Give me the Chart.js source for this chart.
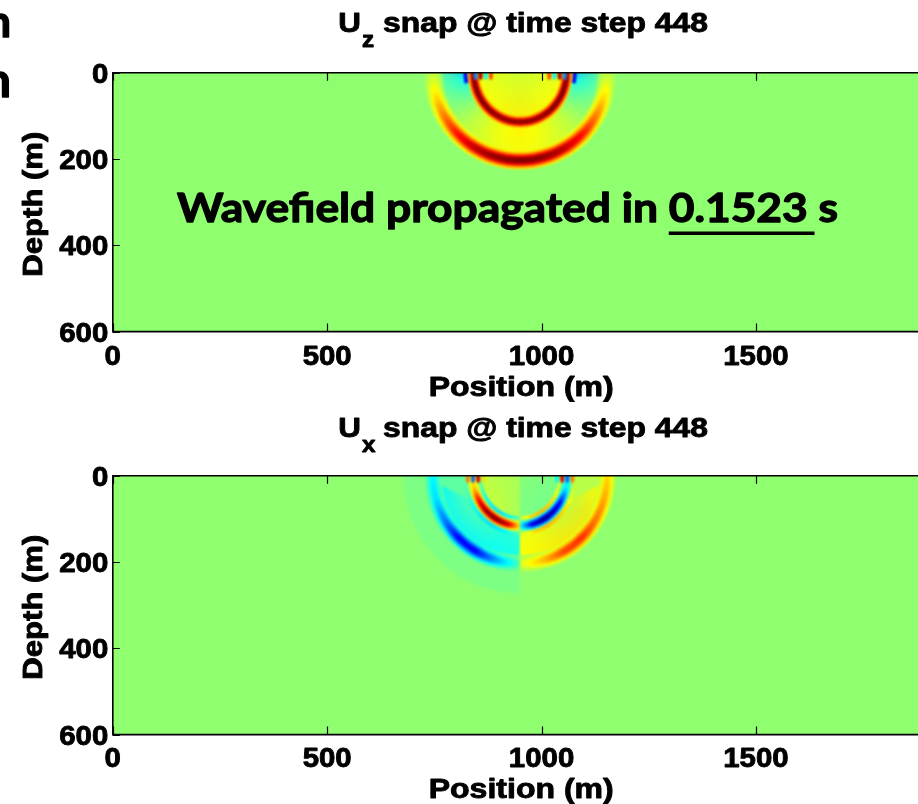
<!DOCTYPE html>
<html><head><meta charset="utf-8">
<script src="https://cdn.jsdelivr.net/npm/chart.js@4.4.0/dist/chart.umd.min.js"></script>
<style>
html,body{margin:0;padding:0;background:#fff;overflow:hidden;width:918px;height:804px}
.panel{position:absolute;left:0;width:918px;height:402px}
#p1{top:0}#p2{top:402px}
canvas{display:block}
</style></head><body>
<div class="panel" id="p1"><canvas id="c1" width="918" height="402"></canvas></div>
<div class="panel" id="p2"><canvas id="c2" width="918" height="402"></canvas></div>
<script>
// ---------- axis data ----------
const xTicks = [0, 500, 1000, 1500];
const depthTicks = [0, 200, 400, 600];
const positionMax = 1878;
const depthMax = 600;

// ---------- wavefield ----------
const sourceX = 950;          // m
const sourceDepth = 0;        // m
const pRadius = 203;          // m, P wavefront
const sRadius = 114;          // m, S wavefront (depth direction)
const sAspect = 0.95;         // horizontal / vertical radius of S front
const tailRadius = 272;       // m, faint tail sector (Ux, left)

// Uz panel (angle from downward vertical, negative = left)
const uzAngles      = [-90, -75, -60, -45, -30, -15, 0, 15, 30, 45, 60, 75, 90];
const uzPAmp        = [0.08, 0.28, 0.5, 0.72, 0.88, 0.97, 1.0, 0.97, 0.88, 0.72, 0.5, 0.28, 0.08];
const uzSAmp        = [0.95, 1.0, 1.0, 1.0, 0.98, 0.97, 0.97, 0.97, 0.98, 1.0, 1.0, 1.0, 0.95];
const uzInsideCenter= [0.15, 0.15, 0.16, 0.16, 0.17, 0.17, 0.17, 0.17, 0.17, 0.16, 0.16, 0.15, 0.15];
const uzInsideEdge  = [0.21, 0.21, 0.22, 0.23, 0.24, 0.25, 0.26, 0.25, 0.24, 0.23, 0.22, 0.21, 0.21];
const uzBetweenIn   = [-0.4, -0.2, -0.04, 0.09, 0.17, 0.22, 0.25, 0.22, 0.17, 0.09, -0.04, -0.2, -0.4];
const uzBetweenOut  = [-0.04, -0.03, 0.02, 0.09, 0.14, 0.18, 0.2, 0.18, 0.14, 0.09, 0.02, -0.03, -0.04];
const uzPatchPhi0   = [-92, 79];
const uzPatchPhi1   = [-79, 92];
const uzPatchR0     = [112, 112];
const uzPatchR1     = [132, 132];
const uzPatchValue  = [-0.8, -0.8];
const uzFringeX     = [846, 858, 870, 882, 1018, 1030, 1042, 1054];
const uzFringeValue = [-0.5, 0.9, -0.3, 0.6, 0.6, -0.3, 0.9, -0.5];

// Ux panel
const uxAngles      = [-90, -75, -60, -45, -30, -15, -0.5, 0.5, 15, 30, 45, 60, 75, 90];
const uxPAmp        = [-0.3, -0.35, -0.55, -0.8, -0.8, -0.45, -0.15, 0.15, 0.35, 0.6, 0.65, 0.5, 0.4, 0.3];
const uxSAmp        = [0.2, 0.35, 0.75, 0.95, 1.0, 0.85, 0.3, -0.3, -0.85, -1.05, -0.95, -0.75, -0.35, -0.2];
const uxInsideCenter= [0.06, 0.06, 0.06, 0.06, 0.06, 0.06, 0.04, -0.02, -0.03, -0.03, -0.03, -0.03, -0.03, -0.03];
const uxInsideEdge  = [0.1, 0.12, 0.12, 0.12, 0.1, 0.08, 0.05, -0.03, -0.05, -0.06, -0.06, -0.06, -0.05, -0.04];
const uxBetweenIn   = [-0.2, -0.12, -0.1, -0.12, -0.15, -0.2, -0.2, 0.18, 0.18, 0.14, 0.1, 0.08, 0.1, 0.18];
const uxBetweenOut  = [-0.28, -0.3, -0.3, -0.3, -0.3, -0.28, -0.25, 0.22, 0.25, 0.28, 0.28, 0.28, 0.25, 0.22];
const uxTailAngles  = [-90, -0.5];
const uxTailValue   = [-0.04, -0.04];
const uxWedgeLeftX  = [750, 756, 943, 836];
const uxWedgeLeftZ  = [0, 17, 114, 0];
const uxWedgeRightX = [1150, 1144, 957, 1064];
const uxWedgeRightZ = [0, 17, 114, 0];
const uxWedgeValue  = [-0.1, 0.08];
const uxFringeX     = [828, 840, 852, 864, 1036, 1048, 1060, 1072];
const uxFringeValue = [0.5, -0.6, 0.8, 0.3, -0.3, 0.8, -0.6, 0.5];

// ---------- helpers ----------
const D2R = Math.PI / 180;
function jet(a) {
  let t = 0.5156 + a * 0.4844;
  t = Math.max(0, Math.min(1, t));
  const f = v => Math.round(255 * Math.max(0, Math.min(1, v)));
  return 'rgb(' + f(1.5 - Math.abs(4 * t - 3)) + ',' + f(1.5 - Math.abs(4 * t - 2)) + ',' + f(1.5 - Math.abs(4 * t - 1)) + ')';
}
function interp(xs, ys, x) {
  if (x <= xs[0]) return ys[0];
  if (x >= xs[xs.length - 1]) return ys[ys.length - 1];
  for (let i = 1; i < xs.length; i++) {
    if (x <= xs[i]) { const f = (x - xs[i - 1]) / (xs[i] - xs[i - 1]); return ys[i - 1] + f * (ys[i] - ys[i - 1]); }
  }
  return ys[ys.length - 1];
}
const th = phi => Math.PI / 2 - phi * D2R;
function phiRange(angles) {
  const a0 = angles[0] <= -90 ? -93 : angles[0];
  const a1 = angles[angles.length - 1] >= 90 ? 93 : angles[angles.length - 1];
  return [a0, a1];
}

// ---------- field spec built from arrays ----------
const uzField = {
  regions: [
    { r0: sRadius, r1: pRadius, angles: uzAngles, vin: uzBetweenIn, vout: uzBetweenOut }
  ],
  wedges: [],
  regionsAfter: [
    { r0: 0, r1: sRadius + 2, angles: uzAngles, vin: uzInsideCenter, vout: uzInsideEdge, aspect: sAspect }
  ],
  patches: uzPatchValue.map((v, i) => ({ p0: uzPatchPhi0[i], p1: uzPatchPhi1[i], r0: uzPatchR0[i], r1: uzPatchR1[i], v })),
  rings: [
    { r: pRadius, w: 42, angles: uzAngles, amps: uzPAmp, lobe: 0 },
    { r: sRadius, w: 30, angles: uzAngles, amps: uzSAmp, lobe: 0, aspect: sAspect }
  ],
  fringes: uzFringeX.map((x, i) => ({ x, v: uzFringeValue[i] }))
};
const uxField = {
  regions: [
    { r0: pRadius - 5, r1: tailRadius, angles: uxTailAngles, vin: uxTailValue, vout: uxTailValue },
    { r0: sRadius, r1: pRadius, angles: uxAngles, vin: uxBetweenIn, vout: uxBetweenOut }
  ],
  wedges: [
    { xs: uxWedgeLeftX, zs: uxWedgeLeftZ, v: uxWedgeValue[0] },
    { xs: uxWedgeRightX, zs: uxWedgeRightZ, v: uxWedgeValue[1] }
  ],
  regionsAfter: [
    { r0: 0, r1: sRadius + 2, angles: uxAngles, vin: uxInsideCenter, vout: uxInsideEdge, aspect: sAspect }
  ],
  patches: [],
  rings: [
    { r: pRadius, w: 38, angles: uxAngles, amps: uxPAmp, lobe: 0 },
    { r: sRadius + 2, w: 26, angles: uxAngles, amps: uxSAmp, lobe: -0.35, aspect: sAspect }
  ],
  fringes: uxFringeX.map((x, i) => ({ x, v: uxFringeValue[i] }))
};

function drawRegion(c, reg) {
  const [a0, a1] = phiRange(reg.angles);
  const step = 1;
  c.save();
  if (reg.aspect) c.scale(reg.aspect, 1);
  for (let p = a0; p < a1; p += step) {
    const pm = p + step / 2;
    const vin = interp(reg.angles, reg.vin, pm), vout = interp(reg.angles, reg.vout, pm);
    const g = c.createRadialGradient(0, 0, Math.max(0, reg.r0), 0, 0, reg.r1);
    g.addColorStop(0, jet(vin)); g.addColorStop(1, jet(vout));
    c.fillStyle = g;
    c.beginPath();
    c.arc(0, 0, reg.r1, th(Math.min(p + step + 0.3, a1)), th(p - 0.3));
    if (reg.r0 > 0) c.arc(0, 0, reg.r0, th(p - 0.3), th(Math.min(p + step + 0.3, a1)), true);
    else c.lineTo(0, 0);
    c.closePath(); c.fill();
  }
  c.restore();
}
function drawRing(c, ring) {
  const [a0, a1] = phiRange(ring.angles);
  const layers = [];
  if (ring.lobe) layers.push([1.7, ring.lobe]);
  layers.push([1.0, 0.28], [0.78, 0.5], [0.56, 0.75], [0.36, 0.93], [0.2, 1.0]);
  c.save();
  if (ring.aspect) c.scale(ring.aspect, 1);
  c.lineCap = 'butt';
  for (const [wf, k] of layers) {
    c.lineWidth = ring.w * wf;
    for (let p = a0; p < a1; p += 1) {
      const a = interp(ring.angles, ring.amps, p + 0.5);
      c.strokeStyle = jet(a * k);
      c.beginPath();
      c.arc(0, 0, ring.r, th(p + 1.25), th(p - 0.25));
      c.stroke();
    }
  }
  c.restore();
}

function fieldPlugin(field) {
  return {
    id: 'wavefield',
    beforeDatasetsDraw(chart) {
      const ctx = chart.ctx, area = chart.chartArea;
      const xs = chart.scales.x, ys = chart.scales.y;
      const X0 = xs.getPixelForValue(sourceX), Y0 = ys.getPixelForValue(sourceDepth);
      const sx = (xs.getPixelForValue(sourceX + 100) - X0) / 100;
      const sy = (ys.getPixelForValue(sourceDepth + 100) - Y0) / 100;
      const off = document.createElement('canvas');
      off.width = chart.canvas.width; off.height = chart.canvas.height;
      const c = off.getContext('2d');
      c.fillStyle = jet(0); c.fillRect(0, 0, off.width, off.height);
      c.save();
      c.translate(X0, Y0); c.scale(sx, sy);
      for (const reg of field.regions) drawRegion(c, reg);
      for (const wd of field.wedges) {
        c.save();
        c.beginPath();
        c.arc(0, 0, pRadius - 6, 0, Math.PI * 2);
        c.clip();
        c.fillStyle = jet(wd.v);
        c.beginPath();
        wd.xs.forEach((x, i) => { const px = x - sourceX, pz = wd.zs[i] - sourceDepth; if (i === 0) c.moveTo(px, pz - 30); c.lineTo(px, pz); });
        c.lineTo(wd.xs[wd.xs.length - 1] - sourceX, -30);
        c.closePath(); c.fill();
        c.restore();
      }
      for (const reg of (field.regionsAfter || [])) drawRegion(c, reg);
      for (const pt of field.patches) {
        c.fillStyle = jet(pt.v);
        c.beginPath();
        c.arc(0, 0, pt.r1, th(pt.p1), th(pt.p0));
        c.arc(0, 0, pt.r0, th(pt.p0), th(pt.p1), true);
        c.closePath(); c.fill();
      }
      for (const ring of field.rings) drawRing(c, ring);
      for (const fr of field.fringes) {
        c.fillStyle = jet(fr.v);
        c.beginPath();
        c.ellipse(fr.x - sourceX, 6, 4.5, 11, 0, 0, Math.PI * 2);
        c.fill();
      }
      c.restore();
      ctx.save();
      ctx.beginPath();
      ctx.rect(area.left, area.top, area.right - area.left, area.bottom - area.top);
      ctx.clip();
      ctx.fillStyle = jet(0);
      ctx.fillRect(area.left, area.top, area.right - area.left, area.bottom - area.top);
      ctx.filter = 'blur(1px)';
      ctx.drawImage(off, 0, 0);
      ctx.filter = 'none';
      ctx.restore();
    }
  };
}

const AXFONT = '"Liberation Sans", Arial, sans-serif';
function txt(ctx, str, x, y, o) {
  ctx.save();
  ctx.font = o.font;
  ctx.fillStyle = o.color || '#000';
  ctx.strokeStyle = o.color || '#000';
  ctx.textBaseline = 'alphabetic';
  ctx.textAlign = 'left';
  const w = ctx.measureText(str).width;
  const k = o.width ? o.width / w : (o.stretch || 1);
  ctx.translate(x, y);
  if (o.rotate) ctx.rotate(o.rotate);
  ctx.scale(k, 1);
  const dx = o.align === 'center' ? -w / 2 : (o.align === 'right' ? -w : 0);
  ctx.fillText(str, dx, 0);
  if (o.heavy) { ctx.lineWidth = o.heavy; ctx.lineJoin = 'round'; ctx.strokeText(str, dx, 0); }
  ctx.restore();
  return w * k;
}

function framePlugin(t) {
  return {
    id: 'frame',
    afterDraw(chart) {
      const ctx = chart.ctx, a = chart.chartArea;
      const xs = chart.scales.x, ys = chart.scales.y;
      ctx.save();
      ctx.strokeStyle = '#000';
      ctx.lineWidth = 1.6;
      ctx.beginPath();
      ctx.moveTo(a.left, a.top); ctx.lineTo(a.right + 4, a.top);
      ctx.moveTo(a.left, a.bottom); ctx.lineTo(a.right + 4, a.bottom);
      ctx.moveTo(a.left, a.top - 0.8); ctx.lineTo(a.left, a.bottom + 0.8);
      ctx.stroke();
      ctx.lineWidth = 1.2;
      ctx.beginPath();
      for (const v of xTicks) {
        const px = Math.round(xs.getPixelForValue(v)) + 0.5;
        ctx.moveTo(px, a.bottom); ctx.lineTo(px, a.bottom - 8);
        ctx.moveTo(px, a.top); ctx.lineTo(px, a.top + 8);
      }
      for (const v of depthTicks) {
        const py = Math.round(ys.getPixelForValue(v)) + 0.5;
        ctx.moveTo(a.left, py); ctx.lineTo(a.left + 7, py);
      }
      ctx.stroke();
      ctx.restore();
      const F = 'bold 28px ' + AXFONT;
      const H = 0.9;
      for (const v of xTicks) txt(ctx, String(v), xs.getPixelForValue(v), t.xTickBase, { font: F, align: 'center', stretch: 1.05, heavy: H });
      for (const v of depthTicks) txt(ctx, String(v), 108.3, ys.getPixelForValue(v) + 10, { font: F, align: 'right', stretch: 1.05, heavy: H });
      txt(ctx, 'Position (m)', 521.2, t.xLabelBase, { font: F, align: 'center', width: 185, heavy: H });
      txt(ctx, 'Depth (m)', 42, (a.top + a.bottom) / 2 + 2, { font: F, align: 'center', width: 145, rotate: -Math.PI / 2, heavy: H });
      // title with subscript
      const wU = txt(ctx, 'U', 338.3, t.titleBase, { font: F, stretch: 1.12, heavy: H });
      txt(ctx, t.sub, 338.3 + wU + 1, t.titleBase + 14.8, { font: 'bold 22px ' + AXFONT, stretch: 1.1, heavy: H });
      txt(ctx, 'snap @ time step 448', 383, t.titleBase, { font: F, width: 325, heavy: H });
      if (t.note) {
        const NF = '700 41px Lato, "Open Sans", sans-serif';
        ctx.save(); ctx.font = NF;
        const parts = ['Wavefield propagated in ', '0.1523 ', 's'];
        const ws = parts.map(s => ctx.measureText(s).width);
        ctx.restore();
        const total = ws[0] + ws[1] + ws[2];
        const k = 661 / total;
        let x = 177;
        const HB = 1.3;
        txt(ctx, parts[0], x, 222, { font: NF, stretch: k, heavy: HB }); x += ws[0] * k;
        txt(ctx, parts[1], x, 222, { font: NF, stretch: k, heavy: HB });
        ctx.save(); ctx.fillStyle = '#000'; ctx.fillRect(x, 231.5, ws[1] * k - 4, 3.5); ctx.restore();
        x += ws[1] * k;
        txt(ctx, parts[2], x, 222, { font: NF, stretch: k, heavy: HB });
        txt(ctx, 'n', 11, 37, { font: '700 44px Lato, sans-serif', align: 'right', heavy: 1.3 });
        txt(ctx, 'n', 11, 97, { font: '700 48px Lato, sans-serif', align: 'right', heavy: 1.3 });
      }
    }
  };
}

function makeChart(id, padTop, padBottom, field, texts) {
  return new Chart(document.getElementById(id), {
    type: 'scatter',
    data: { datasets: [{ data: [], showLine: false, pointRadius: 0 }] },
    options: {
      responsive: false, animation: false, devicePixelRatio: 1, events: [],
      layout: { padding: { left: 112.8, right: 0, top: padTop, bottom: padBottom } },
      plugins: { legend: { display: false }, tooltip: { enabled: false }, title: { display: false } },
      scales: {
        x: { type: 'linear', min: 0, max: positionMax, ticks: { display: false, stepSize: 500 },
             grid: { display: false, drawTicks: false }, border: { display: false },
             afterFit(s) { s.height = 0; } },
        y: { type: 'linear', min: 0, max: depthMax, reverse: true, ticks: { display: false, stepSize: 200 },
             grid: { display: false, drawTicks: false }, border: { display: false },
             afterFit(s) { s.width = 0; } }
      }
    },
    plugins: [fieldPlugin(field), framePlugin(texts)]
  });
}

function init() {
  makeChart('c1', 72.7, 402 - 331.6, uzField, { sub: 'z', titleBase: 31.7, xTickBase: 365, xLabelBase: 395.5, note: true });
  makeChart('c2', 73.7, 402 - 332.6, uxField, { sub: 'x', titleBase: 35.3, xTickBase: 365, xLabelBase: 396, note: false });
}
Promise.all([
  document.fonts.load('bold 28px "Liberation Sans"'),
  document.fonts.load('700 41px Lato')
]).then(init, init);
</script>
</body></html>
